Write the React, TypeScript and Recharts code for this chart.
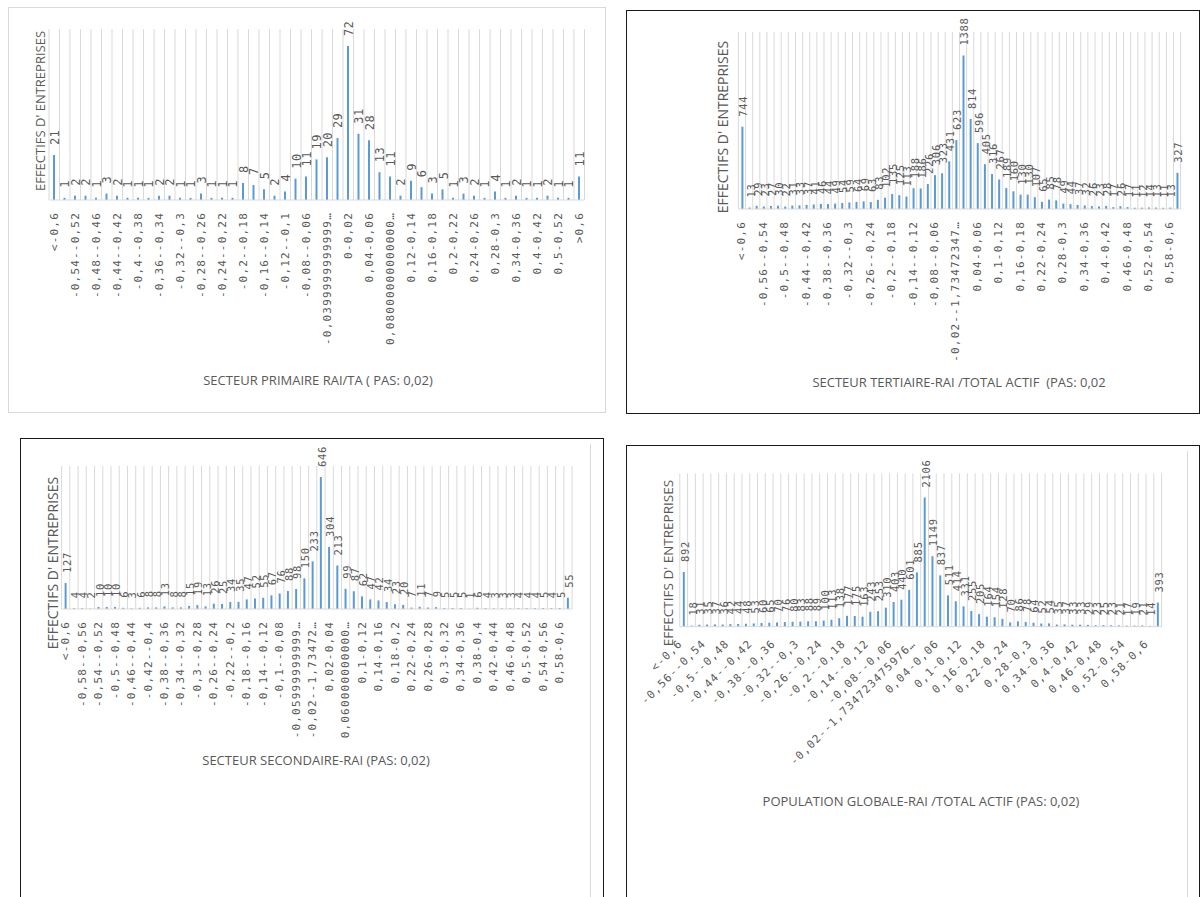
import React from "react";
import { BarChart, Bar, XAxis, YAxis, CartesianGrid, LabelList } from "recharts";

// ---- data ----------------------------------------------------------------

// secteur primaire: empty bins are left out of this one
const PRIM_CATS = [
  "<-0,6", "-0,56--0,54", "-0,54--0,52", "-0,5--0,48", "-0,48--0,46", "-0,46--0,44",
  "-0,44--0,42", "-0,42--0,4", "-0,4--0,38", "-0,38--0,36", "-0,36--0,34", "-0,34--0,32",
  "-0,32--0,3", "-0,3--0,28", "-0,28--0,26", "-0,26--0,24", "-0,24--0,22", "-0,22--0,2",
  "-0,2--0,18", "-0,18--0,16", "-0,16--0,14", "-0,14--0,12", "-0,12--0,1", "-0,1--0,08",
  "-0,08--0,06", "-0,06--0,04", "-0,0399999999999999--0,02", "-0,02-0", "0-0,02",
  "0,02-0,04", "0,04-0,06", "0,06-0,08", "0,0800000000000001-0,1", "0,1-0,12", "0,12-0,14",
  "0,14-0,16", "0,16-0,18", "0,18-0,2", "0,2-0,22", "0,22-0,24", "0,24-0,26", "0,26-0,28",
  "0,28-0,3", "0,32-0,34", "0,34-0,36", "0,38-0,4", "0,4-0,42", "0,44-0,46", "0,5-0,52",
  "0,56-0,58", ">0,6",
];
const PRIM_VALUES = [
  21, 1, 2, 2, 1, 3, 2, 1, 1, 1, 2, 2, 1, 1, 3, 1, 1, 1, 8, 7, 5, 2, 4, 10, 11, 19,
  20, 29, 72, 31, 28, 13, 11, 2, 9, 6, 3, 5, 1, 3, 2, 1, 4, 1, 2, 1, 1, 2, 1, 1, 11,
];

// 62 bins of 0,02 (tertiaire + population globale)
const BINS = [
  "<-0,6", "-0,6--0,58", "-0,58--0,56", "-0,56--0,54", "-0,54--0,52", "-0,52--0,5",
  "-0,5--0,48", "-0,48--0,46", "-0,46--0,44", "-0,44--0,42", "-0,42--0,4", "-0,4--0,38",
  "-0,38--0,36", "-0,36--0,34", "-0,34--0,32", "-0,32--0,3", "-0,3--0,28", "-0,28--0,26",
  "-0,26--0,24", "-0,24--0,22", "-0,22--0,2", "-0,2--0,18", "-0,18--0,16", "-0,16--0,14",
  "-0,14--0,12", "-0,12--0,1", "-0,1--0,08", "-0,08--0,06", "-0,06--0,04", "-0,04--0,02",
  "-0,02--1,73472347597681E-18", "0-0,02", "0,02-0,04", "0,04-0,06", "0,06-0,08",
  "0,08-0,1", "0,1-0,12", "0,12-0,14", "0,14-0,16", "0,16-0,18", "0,18-0,2", "0,2-0,22",
  "0,22-0,24", "0,24-0,26", "0,26-0,28", "0,28-0,3", "0,3-0,32", "0,32-0,34", "0,34-0,36",
  "0,36-0,38", "0,38-0,4", "0,4-0,42", "0,42-0,44", "0,44-0,46", "0,46-0,48", "0,48-0,5",
  "0,5-0,52", "0,52-0,54", "0,54-0,56", "0,56-0,58", "0,58-0,6", ">0,6",
];
const SEC_CATS = [
  "<-0,6", "-0,6--0,58", "-0,58--0,56", "-0,56--0,54", "-0,54--0,52", "-0,52--0,5",
  "-0,5--0,48", "-0,48--0,46", "-0,46--0,44", "-0,44--0,42", "-0,42--0,4", "-0,4--0,38",
  "-0,38--0,36", "-0,36--0,34", "-0,34--0,32", "-0,32--0,3", "-0,3--0,28", "-0,28--0,26",
  "-0,26--0,24", "-0,24--0,22", "-0,22--0,2", "-0,2--0,18", "-0,18--0,16", "-0,16--0,14",
  "-0,14--0,12", "-0,12--0,1", "-0,1--0,08", "-0,08--0,06", "-0,0599999999999999--0,04",
  "-0,04--0,02", "-0,02--1,73472347597681E-18", "0-0,02", "0,02-0,04", "0,04-0,06",
  "0,0600000000000001-0,08", "0,08-0,1", "0,1-0,12", "0,12-0,14", "0,14-0,16", "0,16-0,18",
  "0,18-0,2", "0,2-0,22", "0,22-0,24", "0,24-0,26", "0,26-0,28", "0,28-0,3", "0,3-0,32",
  "0,32-0,34", "0,34-0,36", "0,36-0,38", "0,38-0,4", "0,4-0,42", "0,42-0,44", "0,44-0,46",
  "0,46-0,48", "0,48-0,5", "0,5-0,52", "0,52-0,54", "0,54-0,56", "0,56-0,58", "0,58-0,6",
  ">0,6",
];

const TERT_VALUES = [
  744, 13, 29, 23, 27, 30, 22, 31, 33, 37, 41, 46, 44, 49, 54, 59, 64, 69, 63, 83,
  102, 135, 125, 113, 188, 186, 226, 306, 323, 431, 623, 1388, 814, 596, 405, 316, 267, 189,
  160, 130, 130, 107, 65, 85, 78, 49, 44, 37, 32, 26, 23, 28, 17, 26, 17, 11, 12, 14,
  13, 11, 13, 327,
];
const SEC_VALUES = [
  127, 4, 4, 2, 10, 10, 10, 6, 3, 6, 8, 8, 13, 8, 8, 15, 19, 13, 26, 25, 34, 35, 47,
  52, 55, 67, 76, 88, 98, 150, 233, 646, 304, 213, 99, 87, 62, 47, 42, 34, 23, 20, 7,
  11, 7, 9, 5, 5, 5, 1, 6, 4, 3, 3, 3, 4, 4, 4, 5, 4, 5, 55,
];
const GLOB_VALUES = [
  892, 18, 31, 35, 37, 36, 42, 44, 48, 53, 60, 65, 70, 76, 80, 83, 88, 89, 100, 113,
  138, 177, 175, 163, 243, 253, 310, 403, 440, 601, 885, 2106, 1149, 837, 511, 414, 331,
  255, 205, 164, 154, 128, 70, 86, 78, 64, 52, 54, 35, 37, 33, 33, 29, 23, 25, 23, 21,
  17, 19, 21, 14, 393,
];

// ---- styling -------------------------------------------------------------

const BLUE = "#5B9BD5";
const GRID = "#D9D9D9";
const TEXT = "#595959";
const MONO = "'DejaVu Sans Mono', monospace";
const SANS = "'Open Sans', sans-serif";
const AXIS_H = 150;

function truncate(s: string, n: number) {
  return s.length > n ? s.slice(0, n - 1) + "\u2026" : s;
}

function makeTick(angle: number, maxChars: number) {
  return function Tick(props: any) {
    const { x, y, payload } = props;
    const label = truncate(String(payload.value), maxChars);
    const ax = angle === -90 ? x : x - 3;
    const ay = angle === -90 ? y + 12 : y + 15;
    return (
      <text
        x={ax}
        y={ay}
        transform={`rotate(${angle}, ${ax}, ${ay})`}
        textAnchor="end"
        dominantBaseline="central"
        fill={TEXT}
        fontSize={11}
        fontFamily={MONO}
        letterSpacing={1.2}
      >
        {label}
      </text>
    );
  };
}

function makeDataLabel(fontSize: number, spacing: number) {
  return function DataLabel(props: any) {
    const vb = props.viewBox ?? {};
    const x = Number(props.x ?? vb.x);
    const y = Number(props.y ?? vb.y);
    const w = Number(props.width ?? vb.width ?? 0);
    const cx = x + w / 2 + 1;
    const ty = y - 10;
    return (
      <text
        x={cx}
        y={ty}
        transform={`rotate(-90, ${cx}, ${ty})`}
        textAnchor="start"
        dominantBaseline="central"
        fill={TEXT}
        fontSize={fontSize}
        fontFamily={MONO}
        letterSpacing={spacing}
      >
        {props.value}
      </text>
    );
  };
}

interface Box { left: number; top: number; width: number; height: number }
interface Plot { left: number; top: number; right: number; bottom: number }

interface PanelProps {
  cats: string[];
  values: number[];
  max: number;
  frame: Box;
  plot: Plot;
  border: string;
  innerRight?: number;
  interval: number;
  angle: number;
  maxChars: number;
  labelFont: number;
  labelSpacing: number;
  xTitle: string;
  xTitlePos: [number, number];
  yTitlePos: [number, number];
  yTitleSize: number;
}

function Panel(p: PanelProps) {
  const data = p.cats.map((c, i) => ({ cat: c, n: p.values[i] }));
  const margin = {
    top: p.plot.top - p.frame.top,
    left: p.plot.left - p.frame.left,
    right: p.frame.left + p.frame.width - p.plot.right,
    bottom: p.frame.top + p.frame.height - p.plot.bottom - AXIS_H,
  };
  const plotW = p.plot.right - p.plot.left;

  const boundaries = ({ offset }: any) => {
    const left = offset?.left ?? margin.left;
    const width = offset?.width ?? plotW;
    const out: number[] = [];
    for (let i = 0; i <= data.length; i++) out.push(left + (width * i) / data.length);
    return out;
  };

  return (
    <>
      <div
        style={{
          position: "absolute",
          left: p.frame.left,
          top: p.frame.top,
          width: p.frame.width,
          height: p.frame.height,
        }}
      >
        <BarChart width={p.frame.width} height={p.frame.height} data={data} margin={margin} barCategoryGap={0}>
          <CartesianGrid
            horizontal={false}
            stroke={GRID}
            verticalCoordinatesGenerator={boundaries}
          />
          <XAxis
            dataKey="cat"
            interval={p.interval}
            height={AXIS_H}
            tickSize={0}
            tickMargin={0}
            tickLine={false}
            axisLine={{ stroke: GRID }}
            tick={makeTick(p.angle, p.maxChars)}
          />
          <YAxis hide domain={[0, p.max]} type="number" />
          <Bar dataKey="n" fill={BLUE} barSize={2} isAnimationActive={false}>
            <LabelList dataKey="n" content={makeDataLabel(p.labelFont, p.labelSpacing)} />
          </Bar>
        </BarChart>
      </div>
      {p.innerRight !== undefined && (
        <div
          style={{
            position: "absolute",
            left: p.innerRight,
            top: p.frame.top + 6,
            width: 0,
            height: p.frame.height,
            borderLeft: `1px solid ${GRID}`,
            pointerEvents: "none",
          }}
        />
      )}
      <div
        style={{
          position: "absolute",
          left: p.frame.left,
          top: p.frame.top,
          width: p.frame.width,
          height: p.frame.height,
          border: `1px solid ${p.border}`,
          boxSizing: "border-box",
          pointerEvents: "none",
        }}
      />
      <div
        style={{
          position: "absolute",
          left: p.xTitlePos[0],
          top: p.xTitlePos[1],
          transform: "translate(-50%, -50%)",
          whiteSpace: "pre",
          fontFamily: SANS,
          fontSize: 13,
          color: TEXT,
        }}
      >
        {p.xTitle}
      </div>
      <div
        style={{
          position: "absolute",
          left: p.yTitlePos[0],
          top: p.yTitlePos[1],
          transform: "translate(-50%, -50%) rotate(-90deg)",
          whiteSpace: "pre",
          fontFamily: SANS,
          fontSize: p.yTitleSize,
          color: TEXT,
        }}
      >
        EFFECTIFS D' ENTREPRISES
      </div>
    </>
  );
}

export default function App() {
  return (
    <div
      style={{
        position: "absolute",
        left: 0,
        top: 0,
        width: 1200,
        height: 897,
        overflow: "hidden",
        background: "#fff",
      }}
    >
      <Panel
        cats={PRIM_CATS}
        values={PRIM_VALUES}
        max={80}
        frame={{ left: 8, top: 7, width: 598, height: 406 }}
        plot={{ left: 49, top: 29, right: 584.5, bottom: 200 }}
        border={GRID}
        interval={1}
        angle={-90}
        maxChars={17}
        labelFont={12}
        labelSpacing={0.4}
        xTitle="SECTEUR PRIMAIRE RAI/TA ( PAS: 0,02)"
        xTitlePos={[318, 380]}
        yTitlePos={[40, 111]}
        yTitleSize={13}
      />
      <Panel
        cats={BINS}
        values={TERT_VALUES}
        max={1600}
        frame={{ left: 626, top: 10, width: 574, height: 404 }}
        plot={{ left: 738.4, top: 32, right: 1180.6, bottom: 209 }}
        border="#1a1a1a"
        interval={2}
        angle={-90}
        maxChars={18}
        labelFont={10.5}
        labelSpacing={0.7}
        xTitle="SECTEUR TERTIAIRE-RAI /TOTAL ACTIF  (PAS: 0,02"
        xTitlePos={[959, 382]}
        yTitlePos={[722, 127]}
        yTitleSize={14}
      />
      <Panel
        cats={SEC_CATS}
        values={SEC_VALUES}
        max={700}
        frame={{ left: 20, top: 438, width: 584, height: 470 }}
        plot={{ left: 61.6, top: 466, right: 572.1, bottom: 609 }}
        border="#1a1a1a"
        innerRight={590}
        interval={1}
        angle={-90}
        maxChars={15}
        labelFont={10.5}
        labelSpacing={0.7}
        xTitle="SECTEUR SECONDAIRE-RAI (PAS: 0,02)"
        xTitlePos={[316, 760]}
        yTitlePos={[52, 563]}
        yTitleSize={14}
      />
      <Panel
        cats={BINS}
        values={GLOB_VALUES}
        max={2500}
        frame={{ left: 626, top: 445, width: 574, height: 470 }}
        plot={{ left: 679.8, top: 473.3, right: 1161.6, bottom: 626.7 }}
        border="#1a1a1a"
        innerRight={1187}
        interval={2}
        angle={-45}
        maxChars={22}
        labelFont={10.5}
        labelSpacing={0.7}
        xTitle="POPULATION GLOBALE-RAI /TOTAL ACTIF (PAS: 0,02)"
        xTitlePos={[921, 801]}
        yTitlePos={[668, 563]}
        yTitleSize={13.5}
      />
    </div>
  );
}
